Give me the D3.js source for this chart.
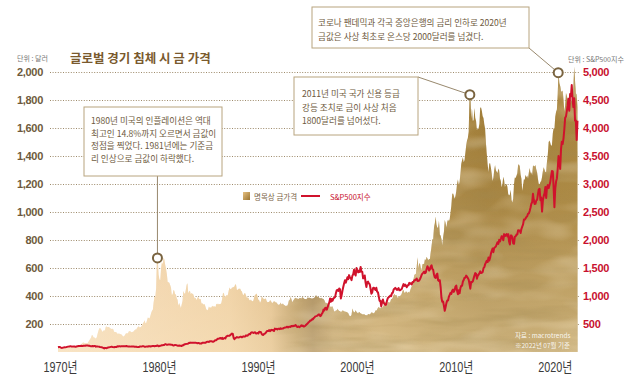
<!DOCTYPE html>
<html>
<head>
<meta charset="utf-8">
<script src="https://cdn.jsdelivr.net/npm/d3@7"></script>
<style>
  body { margin: 0; background: #fff; }
  svg { display: block; font-family: "Noto Sans CJK KR", "Noto Sans", sans-serif; }
</style>
</head>
<body>
<div id="chart"></div>
<script>
// monthly nominal gold price (USD/oz), one array per decade
var gold1970s = [
  35, 35, 35, 36, 36, 35, 35, 35, 36, 37, 37, 37,
  38, 39, 39, 39, 40, 40, 41, 42, 42, 42, 43, 43,
  46, 48, 48, 49, 54, 60, 66, 67, 65, 65, 63, 64,
  65, 74, 84, 91, 102, 120, 120, 106, 103, 100, 94, 106,
  129, 150, 168, 172, 164, 154, 143, 154, 151, 158, 181, 183,
  176, 179, 178, 169, 167, 164, 166, 163, 144, 143, 142, 139,
  131, 131, 132, 128, 126, 125, 117, 109, 114, 117, 130, 134,
  132, 136, 148, 149, 146, 141, 143, 145, 149, 158, 161, 161,
  173, 178, 184, 175, 177, 183, 189, 206, 212, 227, 206, 208,
  227, 246, 242, 239, 257, 279, 294, 301, 355, 392, 392, 456
];
var gold1980s = [
  675, 665, 554, 517, 514, 600, 644, 627, 674, 661, 623, 594,
  557, 500, 499, 495, 479, 460, 409, 410, 443, 437, 413, 410,
  384, 374, 330, 350, 333, 314, 339, 364, 435, 422, 414, 444,
  481, 491, 420, 432, 438, 413, 422, 416, 412, 394, 382, 388,
  370, 386, 394, 381, 377, 378, 347, 348, 341, 340, 341, 320,
  303, 299, 304, 325, 316, 317, 317, 330, 324, 326, 325, 322,
  345, 339, 346, 340, 342, 342, 348, 376, 418, 423, 398, 391,
  408, 401, 409, 438, 460, 450, 450, 461, 460, 465, 467, 486,
  477, 442, 444, 452, 451, 451, 437, 432, 413, 406, 420, 419,
  404, 388, 390, 385, 371, 367, 375, 365, 362, 367, 394, 409
];
var gold1990s = [
  410, 417, 394, 374, 369, 352, 362, 395, 389, 381, 381, 377,
  384, 364, 356, 357, 357, 367, 368, 356, 348, 359, 360, 361,
  354, 354, 345, 338, 337, 341, 353, 340, 345, 344, 335, 334,
  329, 330, 330, 342, 367, 372, 392, 379, 355, 364, 374, 383,
  387, 382, 384, 377, 381, 385, 385, 380, 391, 389, 384, 379,
  379, 376, 382, 391, 385, 387, 386, 383, 383, 383, 386, 387,
  400, 405, 396, 393, 392, 385, 383, 387, 383, 381, 378, 369,
  355, 346, 352, 344, 344, 341, 324, 324, 323, 325, 306, 289,
  289, 297, 296, 309, 299, 292, 293, 284, 289, 296, 294, 291,
  287, 287, 286, 282, 277, 262, 256, 257, 265, 311, 293, 283
];
var gold2000s = [
  285, 299, 286, 280, 275, 286, 282, 275, 274, 270, 266, 271,
  266, 262, 263, 261, 272, 270, 268, 273, 283, 283, 276, 276,
  282, 296, 294, 303, 315, 322, 314, 311, 320, 317, 320, 333,
  357, 359, 341, 328, 355, 356, 351, 359, 378, 379, 390, 407,
  414, 405, 406, 404, 384, 392, 399, 401, 406, 420, 439, 442,
  424, 423, 434, 429, 422, 431, 424, 437, 456, 470, 476, 510,
  549, 555, 557, 610, 676, 596, 633, 632, 598, 585, 627, 629,
  631, 665, 655, 680, 667, 655, 665, 665, 712, 754, 806, 803,
  889, 922, 968, 909, 888, 890, 939, 839, 830, 806, 760, 816,
  858, 943, 924, 890, 928, 946, 934, 949, 996, 1043, 1127, 1134
];
var gold2010s = [
  1118, 1095, 1114, 1149, 1205, 1232, 1193, 1215, 1271, 1343, 1370, 1391,
  1356, 1372, 1424, 1473, 1510, 1529, 1573, 1800, 1850, 1666, 1739, 1652,
  1656, 1742, 1673, 1650, 1585, 1596, 1594, 1630, 1745, 1747, 1722, 1684,
  1671, 1627, 1593, 1487, 1414, 1343, 1286, 1347, 1349, 1316, 1275, 1222,
  1244, 1300, 1336, 1299, 1288, 1279, 1311, 1296, 1239, 1222, 1176, 1201,
  1251, 1227, 1179, 1198, 1199, 1181, 1129, 1118, 1125, 1159, 1086, 1068,
  1097, 1200, 1246, 1242, 1259, 1276, 1337, 1340, 1326, 1266, 1238, 1152,
  1192, 1234, 1231, 1266, 1246, 1260, 1237, 1283, 1314, 1280, 1283, 1265,
  1331, 1331, 1325, 1335, 1303, 1282, 1238, 1202, 1199, 1215, 1221, 1250,
  1291, 1320, 1301, 1286, 1284, 1360, 1413, 1500, 1510, 1495, 1471, 1480
];
var gold2020s = [
  1560, 1598, 1592, 1683, 1716, 1732, 1847, 1995, 1922, 1900, 1866, 1858,
  1868, 1808, 1718, 1760, 1850, 1834, 1807, 1785, 1775, 1777, 1822, 1790,
  1816, 1900, 2040, 1937, 1849, 1837, 1750
];

// monthly S&P 500 close, one array per decade
var sp1970s = [
  85, 89, 90, 82, 77, 73, 78, 82, 84, 83, 87, 92,
  96, 97, 100, 104, 100, 99, 96, 99, 98, 94, 94, 102,
  104, 107, 107, 108, 110, 107, 107, 111, 110, 112, 117, 118,
  116, 112, 112, 107, 104, 104, 108, 104, 108, 108, 96, 98,
  97, 96, 94, 90, 87, 86, 79, 72, 64, 74, 70, 69,
  77, 82, 83, 87, 91, 95, 89, 87, 84, 89, 91, 90,
  101, 100, 103, 102, 100, 104, 103, 103, 105, 103, 102, 107,
  102, 100, 98, 98, 96, 100, 99, 97, 97, 92, 95, 95,
  89, 87, 89, 97, 97, 96, 101, 103, 103, 93, 95, 96,
  100, 96, 102, 102, 99, 103, 104, 109, 109, 102, 106, 108
];
var sp1980s = [
  114, 114, 102, 106, 111, 114, 122, 122, 125, 127, 141, 136,
  130, 131, 136, 133, 133, 131, 131, 123, 116, 122, 126, 123,
  120, 113, 112, 116, 112, 110, 107, 120, 120, 134, 139, 141,
  145, 148, 153, 164, 162, 168, 163, 164, 166, 164, 166, 165,
  163, 157, 159, 160, 151, 153, 151, 167, 166, 166, 164, 167,
  180, 181, 181, 180, 190, 192, 191, 188, 182, 190, 202, 211,
  212, 227, 238, 235, 247, 251, 236, 253, 231, 244, 249, 242,
  274, 284, 292, 288, 290, 304, 318, 330, 322, 252, 230, 247,
  257, 268, 259, 261, 262, 274, 272, 262, 272, 279, 274, 278,
  297, 289, 295, 310, 321, 318, 346, 351, 349, 340, 346, 353
];
var sp1990s = [
  329, 332, 340, 331, 361, 358, 356, 323, 306, 304, 322, 330,
  344, 367, 375, 375, 390, 371, 388, 395, 388, 392, 375, 417,
  409, 413, 404, 415, 415, 408, 424, 414, 418, 419, 431, 436,
  439, 443, 452, 440, 450, 451, 448, 464, 459, 468, 462, 466,
  482, 467, 446, 451, 457, 444, 458, 475, 463, 472, 454, 459,
  470, 487, 501, 515, 533, 545, 562, 562, 584, 582, 605, 616,
  636, 640, 645, 654, 669, 671, 640, 652, 687, 705, 757, 741,
  786, 791, 757, 801, 848, 885, 954, 899, 947, 915, 955, 970,
  980, 1049, 1102, 1112, 1091, 1134, 1121, 957, 1017, 1099, 1164, 1229,
  1280, 1238, 1286, 1335, 1302, 1373, 1329, 1320, 1283, 1363, 1389, 1469
];
var sp2000s = [
  1394, 1366, 1499, 1452, 1421, 1455, 1431, 1518, 1437, 1429, 1315, 1320,
  1366, 1240, 1160, 1249, 1256, 1224, 1211, 1134, 1041, 1060, 1139, 1148,
  1130, 1107, 1147, 1077, 1067, 990, 912, 916, 815, 886, 936, 880,
  856, 841, 848, 917, 964, 975, 990, 1008, 996, 1051, 1058, 1112,
  1131, 1145, 1126, 1107, 1121, 1141, 1102, 1104, 1115, 1130, 1174, 1212,
  1181, 1204, 1181, 1157, 1192, 1191, 1234, 1220, 1229, 1207, 1249, 1248,
  1280, 1281, 1295, 1311, 1270, 1270, 1277, 1304, 1336, 1378, 1401, 1418,
  1438, 1407, 1421, 1482, 1531, 1503, 1455, 1474, 1527, 1549, 1481, 1468,
  1379, 1331, 1323, 1386, 1400, 1280, 1267, 1283, 1165, 969, 896, 903,
  826, 735, 798, 873, 919, 919, 987, 1021, 1057, 1036, 1096, 1115
];
var sp2010s = [
  1074, 1104, 1169, 1187, 1089, 1031, 1102, 1049, 1141, 1183, 1181, 1258,
  1286, 1327, 1326, 1364, 1345, 1321, 1292, 1219, 1131, 1253, 1247, 1258,
  1312, 1366, 1408, 1398, 1310, 1362, 1379, 1407, 1441, 1412, 1416, 1426,
  1498, 1515, 1569, 1598, 1631, 1606, 1686, 1633, 1682, 1757, 1806, 1848,
  1783, 1859, 1872, 1884, 1924, 1960, 1931, 2003, 1972, 2018, 2068, 2059,
  1995, 2105, 2068, 2086, 2107, 2063, 2104, 1972, 1920, 2079, 2080, 2044,
  1940, 1932, 2060, 2065, 2097, 2099, 2174, 2171, 2168, 2126, 2199, 2239,
  2279, 2364, 2363, 2384, 2412, 2423, 2470, 2472, 2519, 2575, 2648, 2674,
  2824, 2714, 2641, 2648, 2705, 2718, 2816, 2902, 2914, 2712, 2760, 2507,
  2704, 2784, 2834, 2946, 2752, 2942, 2980, 2926, 2977, 3038, 3141, 3231
];
var sp2020s = [
  3226, 2954, 2585, 2912, 3044, 3100, 3271, 3500, 3363, 3270, 3622, 3756,
  3714, 3811, 3973, 4181, 4204, 4298, 4395, 4523, 4308, 4605, 4567, 4766,
  4516, 4374, 4530, 4132, 4132, 3785, 4130
];

var goldTicks = [200, 400, 600, 800, 1000, 1200, 1400, 1600, 1800, 2000];
var spTicks = [500, 1000, 1500, 2000, 2500, 3000, 3500, 4000, 4500, 5000];
var yearTicks = [1970, 1980, 1990, 2000, 2010, 2020];

var notes = [
  {year: 1980.05, price: 672, lines: ['1980년 미국의 인플레이션은 역대', '최고인 14.8%까지 오르면서 금값이', '정점을 찍었다. 1981년에는 기준금', '리 인상으로 금값이 하락했다.']},
  {year: 2011.62, price: 1838, lines: ['2011년 미국 국가 신용 등급', '강등 조치로 금이 사상 처음', '1800달러를 넘어섰다.']},
  {year: 2020.55, price: 1995, lines: ['코로나 팬데믹과 각국 중앙은행의 금리 인하로 2020년', '금값은 사상 최초로 온스당 2000달러를 넘겼다.']}
];

var width = 630, height = 385;

var svg = d3.select('#chart').append('svg')
    .attr('width', width)
    .attr('height', height);

var x = d3.scaleLinear().domain([1970, 2022.55]).range([58, 578]);
var yGold = d3.scaleLinear().domain([0, 2000]).range([352, 72]);
var ySp = d3.scaleLinear().domain([0, 5000]).range([352, 72]);

function monthly(start, values) {
  return values.map(function(v, i) { return {t: start + i / 12, v: v}; });
}

var gold = [].concat(monthly(1970, gold1970s), monthly(1980, gold1980s), monthly(1990, gold1990s),
  monthly(2000, gold2000s), monthly(2010, gold2010s), monthly(2020, gold2020s));
var sp = [].concat(monthly(1970, sp1970s), monthly(1980, sp1980s), monthly(1990, sp1990s),
  monthly(2000, sp2000s), monthly(2010, sp2010s), monthly(2020, sp2020s));

// ---- defs: gold colouring, grain, mask
var defs = svg.append('defs');

var hGrad = defs.append('linearGradient').attr('id', 'goldH')
    .attr('gradientUnits', 'userSpaceOnUse')
    .attr('x1', 58).attr('x2', 578).attr('y1', 0).attr('y2', 0);
[[0, '#f3dabb'], [0.19, '#efcfa6'], [0.33, '#ebc898'], [0.41, '#dcb57e'], [0.46, '#a98547'],
 [0.49, '#92703a'], [0.53, '#b08c4c'], [0.62, '#b89350'], [0.72, '#a9853f'], [0.82, '#9f7b35'], [1, '#a6823a']]
  .forEach(function(s) { hGrad.append('stop').attr('offset', s[0]).attr('stop-color', s[1]); });

var vGrad = defs.append('linearGradient').attr('id', 'goldV')
    .attr('gradientUnits', 'userSpaceOnUse')
    .attr('x1', 0).attr('x2', 0).attr('y1', 72).attr('y2', 352);
vGrad.append('stop').attr('offset', 0).attr('stop-color', '#fff0d0').attr('stop-opacity', 0);
vGrad.append('stop').attr('offset', 0.45).attr('stop-color', '#fff0d0').attr('stop-opacity', 0.08);
vGrad.append('stop').attr('offset', 1).attr('stop-color', '#fff0d0').attr('stop-opacity', 0.45);

var swatch = defs.append('linearGradient').attr('id', 'swatch').attr('x1', 0).attr('x2', 1).attr('y1', 0).attr('y2', 1);
swatch.append('stop').attr('offset', 0).attr('stop-color', '#e6c080');
swatch.append('stop').attr('offset', 1).attr('stop-color', '#9a7431');

var grainDark = defs.append('filter').attr('id', 'grainDark')
    .attr('x', 0).attr('y', 0).attr('width', 1).attr('height', 1);
grainDark.append('feTurbulence').attr('type', 'fractalNoise')
    .attr('baseFrequency', '0.012 0.08').attr('numOctaves', 3).attr('seed', 4).attr('result', 'n');
grainDark.append('feColorMatrix').attr('in', 'n').attr('type', 'matrix')
    .attr('values', '0 0 0 0 0.36  0 0 0 0 0.25  0 0 0 0 0.08  1.8 0 0 0 -0.78').attr('result', 'c');
grainDark.append('feComposite').attr('in', 'c').attr('in2', 'SourceAlpha').attr('operator', 'in');

var grainLight = defs.append('filter').attr('id', 'grainLight')
    .attr('x', 0).attr('y', 0).attr('width', 1).attr('height', 1);
grainLight.append('feTurbulence').attr('type', 'fractalNoise')
    .attr('baseFrequency', '0.02 0.05').attr('numOctaves', 2).attr('seed', 11).attr('result', 'n');
grainLight.append('feColorMatrix').attr('in', 'n').attr('type', 'matrix')
    .attr('values', '0 0 0 0 1  0 0 0 0 0.9  0 0 0 0 0.7  1.6 0 0 0 -0.72').attr('result', 'c');
grainLight.append('feComposite').attr('in', 'c').attr('in2', 'SourceAlpha').attr('operator', 'in');

var maskGrad = defs.append('linearGradient').attr('id', 'maskGrad')
    .attr('gradientUnits', 'userSpaceOnUse')
    .attr('x1', 58).attr('x2', 578).attr('y1', 0).attr('y2', 0);
maskGrad.append('stop').attr('offset', 0.4).attr('stop-color', '#000');
maskGrad.append('stop').attr('offset', 0.47).attr('stop-color', '#fff');
maskGrad.append('stop').attr('offset', 1).attr('stop-color', '#fff');
defs.append('mask').attr('id', 'metalMask').attr('maskUnits', 'userSpaceOnUse')
    .attr('x', 0).attr('y', 0).attr('width', width).attr('height', height)
  .append('rect').attr('width', width).attr('height', height).attr('fill', 'url(#maskGrad)');

// ---- grid
var grid = svg.append('g')
    .attr('transform', 'translate(50,0)')
    .call(d3.axisRight(yGold).tickValues(goldTicks).tickSize(530).tickFormat(''));
grid.select('.domain').remove();
grid.selectAll('line')
    .attr('stroke', '#9d8a6a')
    .attr('stroke-width', 1)
    .attr('stroke-dasharray', '1,1.6');

// ---- gold area
var area = d3.area()
    .x(function(d) { return x(d.t); })
    .y0(yGold(0))
    .y1(function(d) { return yGold(d.v); });

svg.append('path').datum(gold).attr('d', area).attr('fill', 'url(#goldH)');
svg.append('path').datum(gold).attr('d', area).attr('fill', 'url(#goldV)');
svg.append('path').datum(gold).attr('d', area).attr('fill', '#000')
    .attr('filter', 'url(#grainDark)').attr('mask', 'url(#metalMask)').attr('opacity', 0.55);
svg.append('path').datum(gold).attr('d', area).attr('fill', '#000')
    .attr('filter', 'url(#grainLight)').attr('mask', 'url(#metalMask)').attr('opacity', 0.45);

// ---- S&P line
var line = d3.line()
    .x(function(d) { return x(d.t); })
    .y(function(d) { return ySp(d.v); });

svg.append('path').datum(sp)
    .attr('d', line)
    .attr('fill', 'none')
    .attr('stroke', '#d0122c')
    .attr('stroke-width', 2)
    .attr('stroke-linejoin', 'round');

// ---- axes
var left = svg.append('g')
    .attr('transform', 'translate(50,0)')
    .call(d3.axisLeft(yGold).tickValues(goldTicks).tickSize(0).tickPadding(7).tickFormat(d3.format(',')));
left.select('.domain').remove();
left.selectAll('text')
    .attr('font-family', '"Liberation Sans", Arial, sans-serif')
    .attr('font-weight', 'bold')
    .attr('font-size', 11)
    .attr('letter-spacing', -0.3)
    .attr('fill', '#6e5a3c');

var right = svg.append('g')
    .attr('transform', 'translate(580,0)')
    .call(d3.axisRight(ySp).tickValues(spTicks).tickSize(0).tickPadding(3).tickFormat(d3.format(',')));
right.select('.domain').remove();
right.selectAll('text')
    .attr('font-family', '"Liberation Sans", Arial, sans-serif')
    .attr('font-weight', 'bold')
    .attr('font-size', 11)
    .attr('letter-spacing', -0.3)
    .attr('fill', '#c8102e');

var bottom = svg.append('g')
    .attr('transform', 'translate(2,352)')
    .call(d3.axisBottom(x).tickValues(yearTicks).tickSize(0).tickPadding(10)
      .tickFormat(function(d) { return d + '년'; }));
bottom.select('.domain').remove();
bottom.selectAll('text')
    .attr('font-family', '"Liberation Sans", "Noto Sans CJK KR", sans-serif')
    .attr('font-size', 14)
    .attr('textLength', 34)
    .attr('lengthAdjust', 'spacingAndGlyphs')
    .attr('fill', '#3a3a3a');

// ---- titles & units
svg.append('text').attr('x', 70).attr('y', 57).attr('dominant-baseline', 'central')
    .attr('font-size', 12.5).attr('font-weight', 'bold').attr('fill', '#7a5a2e')
    .text('글로벌 경기 침체 시 금 가격');
svg.append('text').attr('x', 17).attr('y', 58).attr('dominant-baseline', 'central')
    .attr('font-size', 7).attr('fill', '#777').text('단위 : 달러');
svg.append('text').attr('x', 568).attr('y', 59).attr('dominant-baseline', 'central')
    .attr('font-size', 7).attr('fill', '#777').text('단위 : S&P500지수');

// ---- legend
var legend = svg.append('g');
legend.append('rect').attr('x', 243).attr('y', 192).attr('width', 7).attr('height', 8).attr('fill', 'url(#swatch)');
legend.append('text').attr('x', 254).attr('y', 196).attr('dominant-baseline', 'central')
    .attr('font-size', 7.5).attr('fill', '#7a6446').text('명목상 금가격');
legend.append('line').attr('x1', 301).attr('x2', 320).attr('y1', 196).attr('y2', 196)
    .attr('stroke', '#d0122c').attr('stroke-width', 2);
legend.append('text').attr('x', 330).attr('y', 196).attr('dominant-baseline', 'central')
    .attr('font-size', 7.5).attr('fill', '#c8102e').text('S&P500지수');

// ---- source
svg.append('text').attr('x', 515).attr('y', 335).attr('dominant-baseline', 'central')
    .attr('font-size', 6.5).attr('fill', '#fff').attr('fill-opacity', 0.9).text('자료 : macrotrends');
svg.append('text').attr('x', 515).attr('y', 345).attr('dominant-baseline', 'central')
    .attr('font-size', 6.5).attr('fill', '#fff').attr('fill-opacity', 0.9).text('※2022년 07월 기준');

// ---- annotations
var boxes = [
  {x: 84, y: 107, w: 138, h: 69, tx: 91, ty: 120, lh: 12.7, ax: null, ay: 176},
  {x: 294, y: 77, w: 124, h: 58, tx: 302, ty: 93, lh: 13.5, ax: 418, ay: 77},
  {x: 312, y: 7, w: 217, h: 41, tx: 318, ty: 22, lh: 13.5, ax: 529, ay: 48}
];
var r = 4.5;

notes.forEach(function(n, i) {
  var b = boxes[i];
  var cx = x(n.year), cy = yGold(n.price);
  var sx = b.ax === null ? cx : b.ax, sy = b.ay;
  var dx = cx - sx, dy = cy - sy, len = Math.sqrt(dx * dx + dy * dy);
  svg.append('line')
      .attr('x1', sx).attr('y1', sy)
      .attr('x2', cx - dx / len * r).attr('y2', cy - dy / len * r)
      .attr('stroke', '#8c7a5c').attr('stroke-width', 0.9);
  svg.append('rect').attr('x', b.x).attr('y', b.y).attr('width', b.w).attr('height', b.h)
      .attr('fill', '#fff').attr('stroke', '#b8a47f').attr('stroke-width', 1);
  svg.append('text')
      .attr('font-size', 8.6).attr('fill', '#6e5a3e')
    .selectAll('tspan').data(n.lines).enter().append('tspan')
      .attr('x', b.tx)
      .attr('y', function(d, j) { return b.ty + j * b.lh; })
      .attr('dominant-baseline', 'central')
      .text(function(d) { return d; });
  svg.append('circle').attr('cx', cx).attr('cy', cy).attr('r', r)
      .attr('fill', '#fff').attr('stroke', '#7a6440').attr('stroke-width', 2);
});
</script>
</body>
</html>
